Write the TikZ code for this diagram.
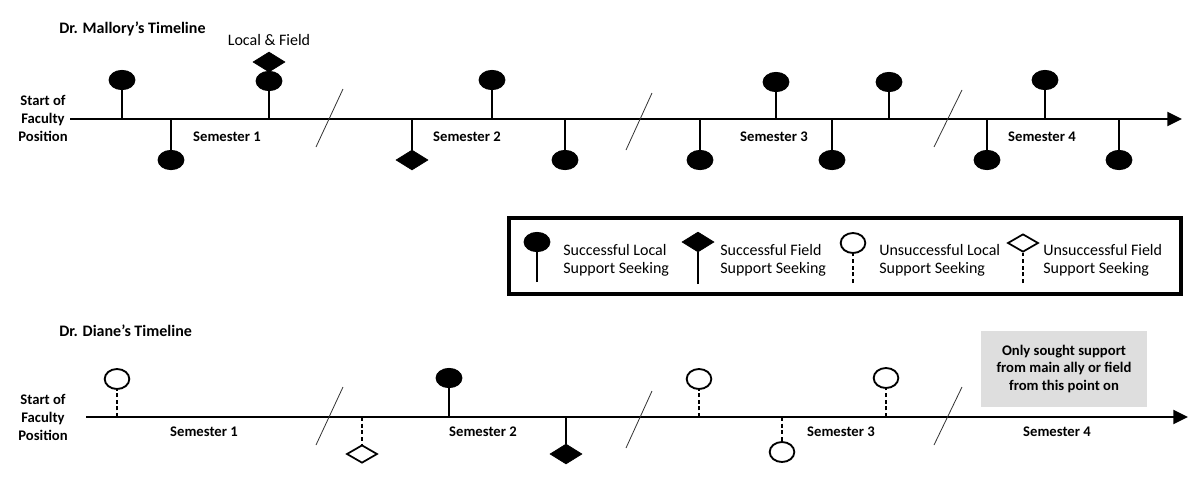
\documentclass[tikz,border=0pt]{standalone}
\usepackage{fontspec}
\setmainfont{Carlito}
\usetikzlibrary{shapes.geometric,arrows.meta}
\newcommand{\mk}[7]{\node[#2] (#1) at (#4,#5) {}; \coordinate (#1a) at (#4,#6); \draw[#3] (#1a) -- (#1.#7);}
\begin{document}
\begin{tikzpicture}[x=0.75pt,y=-0.75pt,
  axis/.style={line width=1.6pt, -{Triangle[length=11pt,width=10.5pt]}},
  stem/.style={line width=1.1pt},
  dstem/.style={line width=1.4pt, dash pattern=on 3pt off 2pt},
  brk/.style={line width=0.6pt, draw=black!80},
  sl/.style={ellipse, draw=black, fill=black, line width=0.6pt, minimum width=19.5pt, minimum height=14.5pt, inner sep=0pt},
  ul/.style={ellipse, draw=black, fill=white, line width=1.4pt, minimum width=18.5pt, minimum height=15pt, inner sep=0pt},
  sf/.style={diamond, draw=black, fill=black, line width=0.5pt, minimum width=24pt, minimum height=15pt, inner sep=0pt},
  uf/.style={diamond, draw=black, fill=white, line width=1.3pt, minimum width=23pt, minimum height=13.5pt, inner sep=0pt},
  lbl/.style={font=\fontsize{11}{13.5}\selectfont\bfseries, inner sep=0pt},
  ttl/.style={font=\fontsize{12}{14}\selectfont\bfseries, inner sep=0pt, anchor=west},
  leg/.style={font=\fontsize{12}{13.5}\selectfont, inner sep=0pt, anchor=west, align=left},
]
\useasboundingbox (0,0) rectangle (1200,479);

% ---------- Mallory ----------
\node[ttl] (t1) at (59,29) {Dr. Mallory’s Timeline};
\node[lbl, align=center] (st1) at (43,118) {Start of\\Faculty\\Position};
\coordinate (ts1) at (70,119);
\coordinate (te1) at (1182,119);
\draw[axis] (ts1) -- (te1);
\node[lbl] (s1a) at (227,137) {Semester 1};
\node[lbl] (s1b) at (467,137) {Semester 2};
\node[lbl] (s1c) at (774,137) {Semester 3};
\node[lbl] (s1d) at (1042,137) {Semester 4};
\draw[brk] (316,147) -- (343,89);
\draw[brk] (626,150) -- (652,93);
\draw[brk] (934,147) -- (962,90);

\mk{ma}{sl}{stem}{122}{80}{119}{south}
\mk{mb}{sl}{stem}{171}{160}{119}{north}
\mk{mc}{sl}{stem}{269}{81}{119}{south}
\node[sf] (mcd) at (269,62) {};
\node[font=\fontsize{12}{14}\selectfont, inner sep=0pt] (lf) at (269,40) {Local \& Field};
\mk{md}{sf}{stem}{412}{160}{119}{north}
\mk{me}{sl}{stem}{492}{80}{119}{south}
\mk{mf}{sl}{stem}{565}{160}{119}{north}
\mk{mg}{sl}{stem}{700}{160}{119}{north}
\mk{mh}{sl}{stem}{776}{82}{119}{south}
\mk{mi}{sl}{stem}{832}{160}{119}{north}
\mk{mj}{sl}{stem}{889}{82}{119}{south}
\mk{mk}{sl}{stem}{987}{160}{119}{north}
\mk{ml}{sl}{stem}{1045}{80}{119}{south}
\mk{mm}{sl}{stem}{1119}{160}{119}{north}

% ---------- Legend ----------
\draw[line width=2.5pt] (509,218) rectangle (1181,294);
\mk{la}{sl}{stem}{537}{242}{282}{south}
\mk{lb}{sf}{stem}{698}{242}{284}{south}
\mk{lc}{ul}{dstem}{853}{243}{283}{south}
\mk{ld}{uf}{dstem}{1023}{243}{283}{south}
\node[leg] (lta) at (563,260) {Successful Local\\Support Seeking};
\node[leg] (ltb) at (720,260) {Successful Field\\Support Seeking};
\node[leg] (ltc) at (879,260) {Unsuccessful Local\\Support Seeking};
\node[leg] (ltd) at (1043,260) {Unsuccessful Field\\Support Seeking};

% ---------- Diane ----------
\node[ttl] (t2) at (59,331) {Dr. Diane’s Timeline};
\node[lbl, align=center] (st2) at (43,417) {Start of\\Faculty\\Position};
\coordinate (ts2) at (86,417);
\coordinate (te2) at (1188,417);
\draw[axis] (ts2) -- (te2);
\node[lbl] (s2a) at (204,432) {Semester 1};
\node[lbl] (s2b) at (483,432) {Semester 2};
\node[lbl] (s2c) at (841,432) {Semester 3};
\node[lbl] (s2d) at (1057,432) {Semester 4};
\draw[brk] (316,445) -- (343,387);
\draw[brk] (626,448) -- (652,391);
\draw[brk] (934,445) -- (962,387);

\mk{da}{ul}{dstem}{117}{379}{417}{south}
\mk{db}{uf}{dstem}{362}{454}{417}{north}
\mk{dc}{sl}{stem}{449}{378}{417}{south}
\mk{dd}{sf}{stem}{566}{454}{417}{north}
\mk{de}{ul}{dstem}{699}{379}{417}{south}
\mk{df}{ul}{dstem}{782}{452}{417}{north}
\mk{dg}{ul}{dstem}{886}{378}{417}{south}

\node[lbl, fill=black!13, align=center, minimum width=124.5pt, minimum height=57pt] (gb) at (1064,369) {Only sought support\\from main ally or field\\from this point on};
\end{tikzpicture}
\end{document}
